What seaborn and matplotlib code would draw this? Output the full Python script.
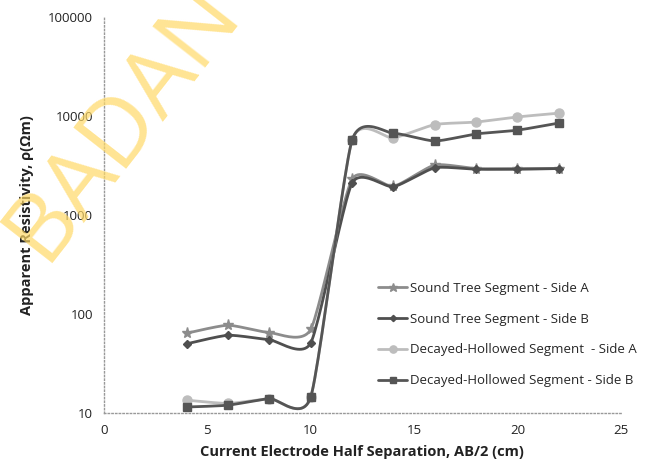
import numpy as np
import seaborn as sns
import matplotlib.pyplot as plt
from matplotlib.lines import Line2D

# current electrode half separation AB/2 (cm)
ab2 = [4, 6, 8, 10, 12, 14, 16, 18, 20, 22]

# apparent resistivity (ohm m)
sound_a = [64, 77, 65, 70, 2300, 1950, 3200, 2950, 2950, 2950]
sound_b = [50, 61, 55, 51, 2100, 1930, 3000, 2900, 2900, 2950]
decayed_a = [13.5, 12.5, 14, 14.5, 5700, 6000, 8200, 8700, 9800, 10700]
decayed_b = [11.5, 12, 14, 14.5, 5700, 6700, 5600, 6600, 7200, 8500]

labels = ["Sound Tree Segment - Side A",
          "Sound Tree Segment - Side B",
          "Decayed-Hollowed Segment  - Side A",
          "Decayed-Hollowed Segment - Side B"]


def smooth(x, y, n=24, k=0.1):
    # excel-like smoothed line (bezier through the points, in log-y space)
    px = np.asarray(x, float)
    py = np.log10(np.asarray(y, float))
    xs, ys = [], []
    m = len(px)
    for i in range(m - 1):
        i0, i3 = max(i - 1, 0), min(i + 2, m - 1)
        p0, p1, p2, p3 = [np.array([px[j], py[j]]) for j in (i0, i, i + 1, i3)]
        c1 = p1 + (p2 - p0) * k
        c2 = p2 - (p3 - p1) * k
        t = np.linspace(0, 1, n)[:, None]
        b = ((1 - t) ** 3) * p1 + 3 * ((1 - t) ** 2) * t * c1 + 3 * (1 - t) * t ** 2 * c2 + t ** 3 * p2
        xs.extend(b[:, 0])
        ys.extend(b[:, 1])
    return np.array(xs), 10 ** np.array(ys)


sns.set_style("white")
plt.rcParams['font.family'] = ['Open Sans', 'DejaVu Sans']

fig = plt.figure(figsize=(6.46, 4.68), dpi=100)
ax = fig.add_axes([0.161, 0.1175, 0.80, 0.846])

styles = [
    (sound_a, "#8c8c8c", "*", 8),
    (sound_b, "#4f4f4f", "D", 4),
    (decayed_a, "#bdbdbd", "o", 6.5),
    (decayed_b, "#555555", "s", 6),
]

handles = []
for (vals, col, mk, ms), lab in zip(styles, labels):
    sx, sy = smooth(ab2, vals)
    sns.lineplot(x=sx, y=sy, ax=ax, color=col, linewidth=2, sort=False, estimator=None)
    ax.plot(ab2, vals, linestyle="none", marker=mk, markersize=ms, color=col,
            markeredgecolor=col)
    handles.append(Line2D([0], [0], color=col, linewidth=2, marker=mk, markersize=ms * 0.8,
                          markeredgecolor=col))

ax.set_yscale("log")
ax.set_ylim(10, 100000)
ax.set_xlim(0, 25)
ax.set_xticks([0, 5, 10, 15, 20, 25])
ax.set_yticks([10, 100, 1000, 10000, 100000])
ax.set_yticklabels(["10", "100", "1000", "10000", "100000"])
ax.minorticks_off()
ax.tick_params(axis="both", length=0, labelsize=9.5, colors="#222222", pad=8)

for s in ["top", "right"]:
    ax.spines[s].set_visible(False)
for s in ["left", "bottom"]:
    ax.spines[s].set_linestyle(":")
    ax.spines[s].set_color("#999999")
    ax.spines[s].set_linewidth(1)

ax.set_xlabel("Current Electrode Half Separation, AB/2 (cm)", fontsize=10.5,
              fontweight="bold", color="#222222", labelpad=6)
ax.set_ylabel("Apparent Resistivity, ρ(Ωm)", fontsize=10.5, fontweight="bold",
              color="#222222", labelpad=10)

ax.legend(handles, labels, loc="upper left", bbox_to_anchor=(0.52, 0.345),
          frameon=False, fontsize=9.5, labelspacing=1.35, handlelength=2.2,
          handletextpad=0.2, borderaxespad=0)

# scan watermark
fig.text(0.19, 0.74, "BADAN", fontsize=68, color="#FFD966", alpha=0.7,
         rotation=52, ha="center", va="center", zorder=10)

fig.savefig("out.png", dpi=100)
